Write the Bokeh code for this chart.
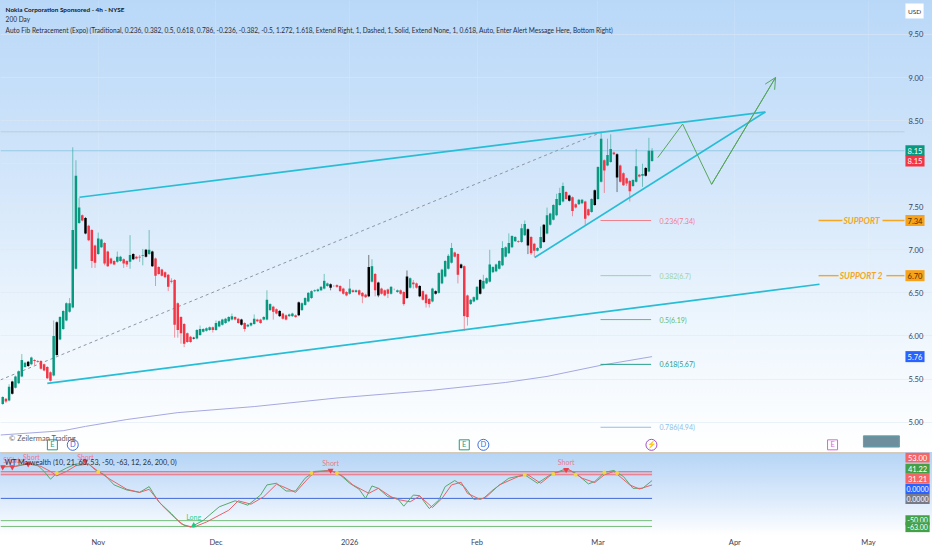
from bokeh.plotting import figure
from bokeh.layouts import column
from bokeh.models import (Label, FixedTicker, Arrow, OpenHead, ColumnDataSource, Range1d)
from bokeh.core.properties import value
from bokeh.embed import file_html
from bokeh.resources import INLINE

FONT = "Lato"

candle_kind = ("grgkggggkg" "rrrrrrgkgg" "gggggrkrrr" "ggrrrrggrr" "gkrrgkgkrr"
               "rrrrrrrrrr" "kgggggrggg" "gggrrkrggg" "rrgggrrkrr" "ggrkgggggg"
               "gggkrrrrrg" "rgrrrkgrkr" "rrgrgrrkgr" "rkrrrgkggg" "ggrrkrrggg"
               "kggggggggg" "ggrggkrrgg" "kggggggrkr" "rggrrgkggr" "ggrkrrrrgg" "rgkgg")

body_top = [
 5.29,5.27,5.41,5.47,5.53,5.59,5.72,5.69,5.70,5.75,
 5.72,5.71,5.71,5.67,5.64,5.58,6.00,6.16,6.22,6.29,
 6.38,6.38,7.23,7.86,7.49,7.40,7.37,7.28,7.23,7.05,
 7.13,7.12,7.08,6.98,6.90,6.87,6.92,6.92,6.89,6.87,
 6.94,6.95,6.92,6.92,6.94,7.00,7.00,6.98,6.90,6.80,
 6.77,6.74,6.71,6.64,6.65,6.38,6.22,6.14,6.03,5.99,
 5.98,6.07,6.08,6.08,6.09,6.10,6.10,6.15,6.17,6.19,
 6.20,6.22,6.23,6.22,6.20,6.19,6.15,6.13,6.15,6.20,
 6.19,6.19,6.22,6.42,6.37,6.34,6.31,6.29,6.26,6.24,
 6.25,6.26,6.24,6.39,6.38,6.44,6.50,6.52,6.53,6.54,
 6.57,6.64,6.61,6.60,6.58,6.59,6.58,6.55,6.51,6.55,
 6.53,6.53,6.53,6.50,6.48,6.80,6.81,6.72,6.62,6.55,
 6.53,6.54,6.57,6.54,6.53,6.53,6.51,6.69,6.67,6.62,
 6.61,6.58,6.52,6.48,6.43,6.55,6.52,6.73,6.77,6.87,
 6.93,7.02,6.97,6.95,6.83,6.81,6.47,6.42,6.45,6.57,
 6.65,6.64,6.67,6.83,6.80,6.83,6.87,7.02,7.03,7.08,
 7.16,7.15,7.10,7.25,7.30,7.24,7.15,7.07,7.02,7.15,
 7.29,7.40,7.42,7.52,7.59,7.66,7.74,7.67,7.63,7.61,
 7.53,7.58,7.58,7.56,7.47,7.59,7.69,7.96,8.29,8.04,
 8.10,8.17,8.13,8.11,7.98,7.89,7.83,7.80,7.81,7.97,
 7.87,7.88,7.95,8.15,8.15]

body_bottom = [
 5.21,5.24,5.25,5.33,5.40,5.45,5.53,5.64,5.65,5.67,
 5.71,5.70,5.62,5.60,5.51,5.48,5.54,5.78,5.96,6.08,
 6.18,6.28,6.33,6.78,7.31,7.34,7.19,7.11,6.87,6.85,
 6.95,7.03,6.84,6.81,6.84,6.83,6.86,6.87,6.84,6.83,
 6.86,6.89,6.90,6.91,6.93,6.92,6.95,6.81,6.70,6.72,
 6.70,6.68,6.57,6.63,6.13,6.07,6.03,5.91,5.93,5.93,
 5.97,5.97,6.01,6.05,6.06,6.07,6.07,6.07,6.11,6.13,
 6.15,6.17,6.19,6.19,6.15,6.13,6.08,6.11,6.12,6.14,
 6.17,6.15,6.19,6.19,6.30,6.28,6.26,6.23,6.20,6.19,
 6.23,6.23,6.22,6.24,6.30,6.36,6.40,6.44,6.52,6.52,
 6.53,6.55,6.58,6.56,6.58,6.57,6.52,6.49,6.47,6.49,
 6.51,6.51,6.48,6.46,6.45,6.46,6.63,6.53,6.47,6.49,
 6.47,6.49,6.49,6.54,6.51,6.49,6.37,6.44,6.56,6.60,
 6.56,6.46,6.42,6.38,6.37,6.40,6.49,6.50,6.61,6.69,
 6.78,6.85,6.92,6.71,6.79,6.23,6.22,6.37,6.40,6.42,
 6.49,6.55,6.61,6.63,6.74,6.75,6.78,6.82,6.92,6.96,
 7.03,7.10,7.09,7.09,7.17,7.05,6.96,6.99,6.99,7.02,
 7.09,7.19,7.29,7.35,7.40,7.52,7.56,7.59,7.57,7.45,
 7.49,7.53,7.54,7.36,7.40,7.44,7.52,7.59,7.79,7.92,
 7.98,8.02,8.11,7.84,7.79,7.75,7.77,7.68,7.74,7.79,
 7.85,7.86,7.86,7.91,8.03]

wick_high = [
 5.30,5.28,5.44,5.48,5.54,5.60,5.79,5.70,5.71,5.76,
 5.73,5.72,5.72,5.68,5.65,5.59,6.18,6.17,6.23,6.30,
 6.39,6.44,8.19,8.04,7.60,7.41,7.38,7.29,7.24,7.06,
 7.20,7.13,7.09,6.99,6.91,6.88,6.98,6.93,6.90,6.88,
 7.17,6.96,6.93,6.94,7.01,7.01,7.23,6.99,6.91,6.81,
 6.78,6.75,6.72,6.67,6.66,6.39,6.23,6.15,6.04,6.00,
 5.99,6.08,6.12,6.09,6.10,6.11,6.11,6.18,6.18,6.20,
 6.21,6.23,6.26,6.23,6.21,6.20,6.16,6.14,6.16,6.25,
 6.20,6.20,6.23,6.53,6.38,6.35,6.32,6.30,6.27,6.25,
 6.26,6.27,6.25,6.40,6.39,6.45,6.51,6.53,6.54,6.55,
 6.58,6.72,6.62,6.61,6.59,6.60,6.59,6.56,6.52,6.66,
 6.54,6.54,6.54,6.51,6.49,6.94,6.89,6.73,6.63,6.56,
 6.54,6.55,6.58,6.55,6.54,6.54,6.52,6.76,6.68,6.65,
 6.62,6.59,6.53,6.49,6.44,6.56,6.53,6.74,6.78,6.88,
 6.95,7.08,6.98,6.96,6.84,6.82,6.48,6.43,6.46,6.58,
 6.66,6.71,6.68,7.00,6.81,6.84,6.88,7.10,7.04,7.19,
 7.17,7.16,7.11,7.30,7.34,7.25,7.16,7.08,7.03,7.27,
 7.30,7.49,7.43,7.53,7.65,7.72,7.78,7.68,7.64,7.62,
 7.54,7.59,7.59,7.57,7.48,7.60,7.70,7.97,8.37,8.05,
 8.29,8.34,8.14,8.12,7.99,7.90,7.84,7.81,7.82,8.17,
 7.88,8.00,7.96,8.30,8.18]

wick_low = [
 5.20,5.22,5.24,5.32,5.39,5.44,5.52,5.63,5.64,5.66,
 5.66,5.69,5.61,5.59,5.50,5.47,5.53,5.77,5.95,6.07,
 6.17,6.27,6.32,6.77,7.30,7.33,7.18,7.10,6.79,6.79,
 6.94,7.02,6.82,6.80,6.83,6.82,6.85,6.86,6.79,6.80,
 6.78,6.88,6.89,6.86,6.82,6.91,6.94,6.80,6.58,6.71,
 6.69,6.67,6.52,6.61,5.98,5.98,5.91,5.87,5.92,5.92,
 5.96,5.96,6.00,6.04,6.05,6.06,6.04,6.06,6.10,6.12,
 6.14,6.16,6.18,6.18,6.14,6.12,6.05,6.10,6.11,6.13,
 6.16,6.14,6.18,6.18,6.29,6.19,6.25,6.22,6.19,6.18,
 6.22,6.22,6.21,6.23,6.29,6.35,6.39,6.43,6.51,6.51,
 6.52,6.54,6.57,6.53,6.57,6.56,6.51,6.48,6.46,6.48,
 6.50,6.50,6.47,6.38,6.44,6.45,6.62,6.46,6.45,6.48,
 6.46,6.44,6.48,6.53,6.50,6.48,6.35,6.43,6.55,6.55,
 6.55,6.45,6.41,6.33,6.33,6.39,6.48,6.49,6.60,6.68,
 6.77,6.84,6.91,6.61,6.78,6.06,6.12,6.36,6.39,6.41,
 6.48,6.54,6.60,6.62,6.73,6.74,6.77,6.81,6.91,6.95,
 7.02,7.09,7.08,7.08,7.16,6.95,6.94,6.92,6.98,7.01,
 7.08,7.18,7.28,7.34,7.39,7.51,7.55,7.58,7.56,7.39,
 7.48,7.52,7.53,7.29,7.39,7.43,7.51,7.58,7.78,7.66,
 7.97,8.01,8.10,7.67,7.78,7.74,7.74,7.56,7.73,7.78,
 7.84,7.73,7.85,7.90,8.02]

sma_bars = [-0.7, 19, 26, 39, 55, 79, 105, 135, 158, 171, 188, 204]
sma_vals = [4.85, 4.90, 4.95, 5.03, 5.11, 5.18, 5.28, 5.37, 5.46, 5.53, 5.66, 5.76]

channel_top_bars, channel_top_vals = [24.1, 239.6], [7.61, 8.60]
channel_low_bars, channel_low_vals = [14.0, 256.6], [5.45, 6.60]
wedge_bars, wedge_vals = [167.1, 239.6], [6.91, 8.60]
path_bars, path_vals = [205.8, 213.6, 222.7, 242.8], [8.07, 8.46, 7.76, 9.00]
fib_trend_bars, fib_trend_vals = [-0.7, 187.8], [5.49, 8.36]

fib_labels = ["0.236(7.34)", "0.382(6.7)", "0.5(6.19)", "0.618(5.67)", "0.786(4.94)"]
fib_vals = [7.34, 6.70, 6.19, 5.67, 4.94]
fib_colors = ["#f0808a", "#9fd3a2", "#66bb6a", "#26a08c", "#90bfe8"]

wt1_bars = [0,4,8,11,13,15,17,20,23,27,29,32,35,39,43,46,49,53,56,59,63,68,73,77,81,83,86,89,92,95,98,
            103,106,109,112,114,116,118,121,124,126,129,131,134,137,139,142,145,148,151,154,159,164,168,
            172,177,180,184,186,189,192,195,198,201,204]
wt1_vals = [71.9,71.9,79.4,74.1,60.5,43.1,56.7,68,77.2,77.2,64.3,52.9,30.2,18.8,13.5,26.4,-7.7,-34.2,-56.9,-64.5,
            -49.4,-19,-5.4,-15.3,7.5,30.2,34,16.6,16.6,45.3,60.5,
            62.8,52.9,34,20.3,-0.1,27.9,22.6,3.7,-0.1,-17.5,7.5,6,-22.8,-3.9,26.4,40,26.4,-2.4,-0.1,18.8,45.3,52.9,34,
            52.9,66.6,56.7,32.5,37.8,58.2,62.8,49.1,22.6,22.6,40]
wt2_bars = [0,4,8,12,15,17,20,23,27,30,34,39,43,46,50,54,57,60,64,71,74,78,82,86,88,92,96,98,
            103,107,110,115,118,122,124,128,131,135,138,141,144,146,150,152,156,162,165,169,173,178,182,186,189,192,197,200,204]
wt2_vals = [70.3,71.9,77.2,71.9,60.5,50.6,60.5,73.4,77.2,60.5,41.6,20.3,13.5,20.3,-15.3,-43.3,-60.7,-64.5,-53.1,-26.6,
            -5.4,-13,3.7,31.7,26.4,13.5,45.3,59,
            62.8,49.1,30.2,11.3,22.6,3.7,-2.4,-7.7,5.2,-20.6,-0.1,30.2,36.3,11.3,-2.4,3.7,30.2,49.1,52.9,34,56.7,64.3,45.3,35.5,52.9,60.5,30.2,21.1,30.2]

short_bars, short_vals = [0, 3, 8, 26, 103, 177], [70.3, 70.3, 77.2, 83.2, 62.8, 64.3]
short_text_bars = [2.8, 4.5, 9, 26, 103, 177]
short_text_vals = [86, 86, 92, 92, 80, 82]
long_bars, long_vals = [60], [-60.7]
cross_bars = [17, 30, 97, 105, 164, 173, 180, 189, 193]
cross_vals = [56.7, 59, 56.7, 56.7, 52.9, 55, 52.9, 58.2, 56.7]

month_ticks = [30, 67, 109, 149, 187, 230, 272]
month_labels = ["Nov", "Dec", "2026", "Feb", "Mar", "Apr", "May"]
price_ticks = [5.0, 5.5, 6.0, 6.5, 7.0, 7.5, 8.5, 9.0, 9.5]
grid_prices = [5.0, 5.5, 6.0, 6.5, 7.0, 7.5, 8.0, 8.5, 9.0, 9.5]

X0, XPANE, X1 = -0.7, 283.3, 292.1
GREEN, RED, BLACK = "#089981", "#f23645", "#000000"
TEAL = "#27bdd6"

bars = list(range(len(candle_kind)))
cols = [{"g": GREEN, "r": RED, "k": BLACK}[k] for k in candle_kind]
src = ColumnDataSource(dict(x=bars, top=body_top, bottom=body_bottom, hi=wick_high, lo=wick_low, c=cols))

main = figure(frame_width=932, frame_height=452, x_range=Range1d(X0, X1), y_range=Range1d(4.647, 9.894),
              output_backend="svg", toolbar_location=None, x_axis_location=None, y_axis_location="right",
              min_border_left=0, min_border_right=0, min_border_top=0, min_border_bottom=0,
              background_fill_color=None, border_fill_color=None, outline_line_color=None)
main.styles = {"background": "linear-gradient(180deg,#b9d8f8 0%,#d3e6fa 40%,#ecf5fd 70%,#ffffff 100%)"}

ya = main.yaxis[0]
ya.axis_line_color = None
ya.major_tick_line_color = None
ya.minor_tick_line_color = None
ya.major_tick_out = 0
ya.major_tick_in = 0
ya.major_label_text_font = FONT
ya.major_label_text_font_size = "7.5px"
ya.major_label_text_color = "#3a4256"
ya.major_label_standoff = -24
ya.ticker = FixedTicker(ticks=price_ticks)
ya.major_label_overrides = {t: f"{t:.2f}" for t in price_ticks}
main.xgrid.ticker = FixedTicker(ticks=month_ticks)
main.xgrid.grid_line_color = "#ffffff"
main.xgrid.grid_line_alpha = 0.12
main.ygrid.grid_line_color = "#dfe8f2"
main.ygrid.grid_line_alpha = 0.55
main.ygrid.ticker = FixedTicker(ticks=grid_prices)

main.line([X0, XPANE], [8.37, 8.37], line_color="#9aa7b5", line_width=1, line_alpha=0.35)
main.line([X0, XPANE], [8.15, 8.15], line_color="#72bcd8", line_width=1, line_alpha=0.6)

main.line(sma_bars, sma_vals, line_color="#a6a8e0", line_width=1)
main.line(fib_trend_bars, fib_trend_vals, line_color="#8a96a3", line_width=1, line_dash="3 3")

for lab, val, col in zip(fib_labels, fib_vals, fib_colors):
    main.line([187.8, 203.7], [val, val], line_color=col, line_width=1)
    main.text([206.3], [val], text=[lab], text_color=col, text_font=value(FONT), text_font_size="7px",
              text_baseline="middle")

main.segment("x", "hi", "x", "lo", source=src, line_color="c", line_width=1, line_alpha=0.5)
main.vbar("x", top="top", bottom="bottom", width=0.78, source=src, fill_color="c", line_color=None)

for xs, ys in ((channel_top_bars, channel_top_vals), (channel_low_bars, channel_low_vals), (wedge_bars, wedge_vals)):
    main.line(xs, ys, line_color=TEAL, line_width=1.7)
main.line(path_bars, path_vals, line_color="#57a65b", line_width=1)
main.add_layout(Arrow(end=OpenHead(size=11, line_color="#57a65b", line_width=1), line_color="#57a65b", line_width=1,
                      x_start=path_bars[2], y_start=path_vals[2], x_end=path_bars[3], y_end=path_vals[3]))

ORANGE = "#f5a623"
for y, a, b, txt, tx in ((7.34, (256.3, 263.8), (276.4, 283.3), "SUPPORT", 269.8),
                         (6.70, (256.3, 262.6), (277.6, 283.3), "SUPPORT  2", 270.0)):
    main.line(list(a), [y, y], line_color=ORANGE, line_width=1.4)
    main.line(list(b), [y, y], line_color=ORANGE, line_width=1.4)
    main.text([tx], [y], text=[txt], text_color=ORANGE, text_font=value(FONT), text_font_style="bold italic",
              text_font_size="8.5px", text_baseline="middle", text_align="center")

ev_y = 4.736
main.scatter([15.6, 145], [ev_y, ev_y], marker="square", size=10, fill_color="#ffffff", line_color="#1f9c84", line_width=1)
main.scatter([22, 151], [ev_y, ev_y], marker="circle", size=11, fill_color="#ffffff", line_color="#3f6fe0", line_width=1)
main.scatter([203.8], [ev_y], marker="circle", size=11, fill_color="#ffffff", line_color="#a04fc8", line_width=1)
main.scatter([260.7], [ev_y], marker="square", size=10, fill_color="#ffffff", line_color="#d964d9", line_width=1)
for xs, t, c in (([15.6, 145], "E", "#1f9c84"), ([22, 151], "D", "#3f6fe0"), ([203.8], "⚡", "#a04fc8"), ([260.7], "E", "#d964d9")):
    main.text(xs, [ev_y] * len(xs), text=[t] * len(xs), text_color=c, text_font=value(FONT), text_font_size="7.5px",
              text_align="center", text_baseline="middle")
main.quad(left=[270.4], right=[281.7], top=[4.84], bottom=[4.71], fill_color="#6f8e9d", line_color="#55a7ae")


def header(fig, x, y, txt, style="normal", color="#2a2e39", size="6.55px"):
    fig.add_layout(Label(x=x, y=y, text=txt, text_font=FONT, text_font_size=size, text_font_style=style,
                         text_color=color, text_baseline="middle"))


header(main, 0.9, 9.79, "Nokia Corporation Sponsored - 4h - NYSE", style="bold", color="#131722", size="6.4px")
header(main, 0.9, 9.67, "200 Day")
header(main, 0.9, 9.54, "Auto Fib Retracement (Expo) (Traditional, 0.236, 0.382, 0.5, 0.618, 0.786, -0.236, -0.382, -0.5, 1.272, 1.618, "
                        "Extend Right, 1, Dashed, 1, Solid, Extend None, 1, 0.618, Auto, Enter Alert Message Here, Bottom Right)")
header(main, 2.0, 4.806, "© Zeilerman Trading", color="#5a5f6a", size="7.5px")


def tag(fig, y, half, right, txt, bg, color="#ffffff", size="7.5px"):
    fig.quad(left=[283.6], right=[right], top=[y + half], bottom=[y - half], fill_color=bg, line_color=None)
    fig.text([(283.6 + right) / 2], [y], text=[txt], text_color=color, text_font=value(FONT), text_font_size=size,
             text_align="center", text_baseline="middle")


H = 0.064
tag(main, 9.772, 0.087, 289.3, "USD", "#ffffff", "#2a2e39", size="6.5px")
tag(main, 8.15, H, 289.6, "8.15", GREEN)
tag(main, 8.03, H, 289.6, "8.15", RED)
tag(main, 7.34, H, 289.6, "7.34", "#f7a21b", "#4a3200")
tag(main, 6.70, H, 289.6, "6.70", "#f7a21b", "#4a3200")
tag(main, 5.76, H, 289.6, "5.76", "#2962ff")

# indicator pane
ind = figure(frame_width=932, frame_height=80, x_range=main.x_range, y_range=Range1d(-76.6, 103),
             output_backend="svg", toolbar_location=None, y_axis_location=None,
             min_border_left=0, min_border_right=0, min_border_top=0, min_border_bottom=18,
             background_fill_color=None, border_fill_color=None, outline_line_color=None)
ind.styles = {"background": "linear-gradient(180deg,#b5d4f6 0%,#d9e9fb 45%,#ffffff 85%)"}
ind.grid.grid_line_color = None
ax = ind.xaxis[0]
ax.ticker = FixedTicker(ticks=month_ticks)
ax.major_label_overrides = dict(zip(month_ticks, month_labels))
ax.axis_line_color = None
ax.major_tick_line_color = None
ax.minor_tick_line_color = None
ax.major_tick_out = 0
ax.major_tick_in = 0
ax.major_label_text_font = FONT
ax.major_label_text_font_size = "7.5px"
ax.major_label_text_color = "#3a4256"
ax.major_label_standoff = 5

ind.line([X0, XPANE], [102.5, 102.5], line_color="#f6c27a", line_width=2)
ind.varea([X0, 204], [53, 53], [60, 60], fill_color="#f06a78", fill_alpha=0.25)
for lvl, col in ((60, "#ef6b78"), (53, "#ef6b78"), (0, "#3f68d8"), (-50, "#75bd7a"), (-63, "#75bd7a")):
    ind.line([X0, 204], [lvl, lvl], line_color=col, line_width=1)
ind.line(wt1_bars, wt1_vals, line_color="#56a86c", line_width=1)
ind.line(wt2_bars, wt2_vals, line_color="#e8606a", line_width=1)
ind.scatter(cross_bars, cross_vals, marker="circle", size=4, fill_color="#f4d63f", line_color=None)
ind.scatter(short_bars, short_vals, marker="inverted_triangle", size=6, fill_color="#e8404c", line_color=None)
ind.scatter(long_bars, long_vals, marker="triangle", size=6, fill_color="#22c77f", line_color=None)
ind.text(short_text_bars, short_text_vals, text=["Short"] * len(short_bars), text_color="#ee7a8a",
         text_font=value(FONT), text_font_size="7px", text_align="center", text_baseline="middle")
ind.text(long_bars, [v + 19 for v in long_vals], text=["Long"], text_color="#2fd08f",
         text_font=value(FONT), text_font_size="7px", text_align="center", text_baseline="middle")
header(ind, 0.6, 80, "WT Maiwealth (10, 21, 60, 53, -50, -63, 12, 26, 200, 0)", size="7.2px")

IH = 11.2
tag(ind, 91.6, IH, 291.2, "53.00", "#f56565")
tag(ind, 66.6, IH, 291.2, "41.22", "#43a047")
tag(ind, 43.9, IH, 291.2, "31.21", "#f56565")
tag(ind, 21.1, IH, 291.2, "0.0000", "#2962ff", size="7px")
tag(ind, -1.6, IH, 291.2, "0.0000", "#787b86", size="7px")
tag(ind, -49.3, IH, 291.2, "-50.00", "#43a047", size="7px")
tag(ind, -65, IH, 291.2, "-63.00", "#43a047", size="7px")

page = column(main, ind, spacing=0)
open("out.html", "w").write(file_html(page, INLINE))
